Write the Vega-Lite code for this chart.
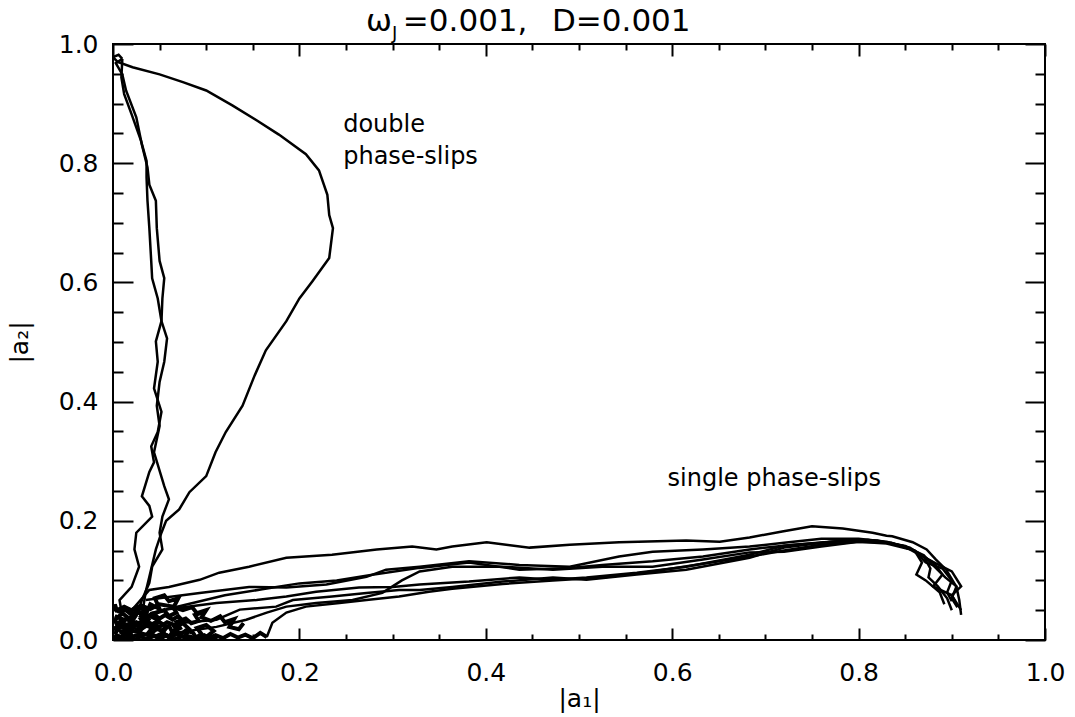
{
  "$schema": "https://vega.github.io/schema/vega-lite/v6.json",
  "width": 932,
  "height": 596,
  "autosize": "none",
  "padding": {"left": 113, "top": 44, "right": 30, "bottom": 77},
  "background": "white",
  "config": {
    "view": {"stroke": "black", "strokeWidth": 2},
    "font": "DejaVu Sans"
  },
  "datasets": {
    "traj": [
      {"t":"C1","x":0.005,"y":0.002},{"t":"C1","x":0.012,"y":0.008},{"t":"C1","x":0.008,"y":0.015},{"t":"C1","x":0.018,"y":0.012},{"t":"C1","x":0.022,"y":0.02},{"t":"C1","x":0.015,"y":0.026},{"t":"C1","x":0.025,"y":0.03},{"t":"C1","x":0.032,"y":0.022},{"t":"C1","x":0.028,"y":0.012},{"t":"C1","x":0.038,"y":0.008},{"t":"C1","x":0.045,"y":0.016},{"t":"C1","x":0.04,"y":0.026},{"t":"C1","x":0.05,"y":0.03},{"t":"C1","x":0.058,"y":0.022},{"t":"C1","x":0.052,"y":0.01},{"t":"C1","x":0.062,"y":0.004},{"t":"C1","x":0.07,"y":0.012},{"t":"C1","x":0.066,"y":0.022},{"t":"C1","x":0.075,"y":0.028},{"t":"C1","x":0.082,"y":0.018},{"t":"C1","x":0.078,"y":0.008},{"t":"C1","x":0.088,"y":0.003},{"t":"C1","x":0.095,"y":0.01},{"t":"C1","x":0.09,"y":0.02},{"t":"C1","x":0.1,"y":0.025},{"t":"C1","x":0.108,"y":0.015},{"t":"C1","x":0.1,"y":0.005},{"t":"C1","x":0.112,"y":0.002},
      {"t":"C2","x":0.002,"y":0.04},{"t":"C2","x":0.01,"y":0.035},{"t":"C2","x":0.006,"y":0.028},{"t":"C2","x":0.015,"y":0.022},{"t":"C2","x":0.01,"y":0.012},{"t":"C2","x":0.02,"y":0.005},{"t":"C2","x":0.03,"y":0.01},{"t":"C2","x":0.026,"y":0.018},{"t":"C2","x":0.035,"y":0.025},{"t":"C2","x":0.03,"y":0.035},{"t":"C2","x":0.04,"y":0.04},{"t":"C2","x":0.048,"y":0.034},{"t":"C2","x":0.045,"y":0.045},{"t":"C2","x":0.055,"y":0.05},{"t":"C2","x":0.06,"y":0.04},{"t":"C2","x":0.068,"y":0.046},{"t":"C2","x":0.064,"y":0.056},{"t":"C2","x":0.05,"y":0.06},{"t":"C2","x":0.04,"y":0.052},{"t":"C2","x":0.03,"y":0.058},{"t":"C2","x":0.02,"y":0.05},{"t":"C2","x":0.012,"y":0.056},{"t":"C2","x":0.004,"y":0.05},{"t":"C2","x":0.002,"y":0.06},
      {"t":"C3","x":0.0,"y":0.005},{"t":"C3","x":0.008,"y":0.0},{"t":"C3","x":0.016,"y":0.004},{"t":"C3","x":0.024,"y":0.0},{"t":"C3","x":0.03,"y":0.006},{"t":"C3","x":0.036,"y":0.001},{"t":"C3","x":0.044,"y":0.007},{"t":"C3","x":0.05,"y":0.002},{"t":"C3","x":0.058,"y":0.008},{"t":"C3","x":0.066,"y":0.001},{"t":"C3","x":0.074,"y":0.006},{"t":"C3","x":0.082,"y":0.0},{"t":"C3","x":0.09,"y":0.005},{"t":"C3","x":0.1,"y":0.002},{"t":"C3","x":0.11,"y":0.008},{"t":"C3","x":0.118,"y":0.003},{"t":"C3","x":0.126,"y":0.01},{"t":"C3","x":0.134,"y":0.004},{"t":"C3","x":0.142,"y":0.009},{"t":"C3","x":0.15,"y":0.003},{"t":"C3","x":0.158,"y":0.012},{"t":"C3","x":0.165,"y":0.005},
      {"t":"C4","x":0.0,"y":0.055},{"t":"C4","x":0.006,"y":0.048},{"t":"C4","x":0.014,"y":0.05},{"t":"C4","x":0.02,"y":0.042},{"t":"C4","x":0.028,"y":0.046},{"t":"C4","x":0.034,"y":0.038},{"t":"C4","x":0.042,"y":0.044},{"t":"C4","x":0.05,"y":0.036},{"t":"C4","x":0.056,"y":0.042},{"t":"C4","x":0.064,"y":0.034},{"t":"C4","x":0.07,"y":0.04},{"t":"C4","x":0.076,"y":0.03},{"t":"C4","x":0.068,"y":0.024},{"t":"C4","x":0.058,"y":0.03},{"t":"C4","x":0.05,"y":0.022},{"t":"C4","x":0.04,"y":0.028},{"t":"C4","x":0.032,"y":0.02},{"t":"C4","x":0.022,"y":0.026},{"t":"C4","x":0.014,"y":0.018},{"t":"C4","x":0.006,"y":0.024},{"t":"C4","x":0.0,"y":0.018},
      {"t":"C5","x":0.0,"y":0.03},{"t":"C5","x":0.01,"y":0.045},{"t":"C5","x":0.018,"y":0.035},{"t":"C5","x":0.025,"y":0.05},{"t":"C5","x":0.035,"y":0.042},{"t":"C5","x":0.04,"y":0.06},{"t":"C5","x":0.05,"y":0.052},{"t":"C5","x":0.045,"y":0.07},{"t":"C5","x":0.055,"y":0.075},{"t":"C5","x":0.06,"y":0.065},{"t":"C5","x":0.07,"y":0.07},{"t":"C5","x":0.065,"y":0.055},{"t":"C5","x":0.075,"y":0.05},{"t":"C5","x":0.085,"y":0.055},{"t":"C5","x":0.09,"y":0.045},{"t":"C5","x":0.1,"y":0.05},{"t":"C5","x":0.095,"y":0.038},{"t":"C5","x":0.105,"y":0.032},{"t":"C5","x":0.115,"y":0.04},{"t":"C5","x":0.12,"y":0.03},{"t":"C5","x":0.13,"y":0.035},{"t":"C5","x":0.125,"y":0.022},{"t":"C5","x":0.135,"y":0.018},{"t":"C5","x":0.14,"y":0.028},
      {"t":"C6","x":0.002,"y":0.01},{"t":"C6","x":0.006,"y":0.02},{"t":"C6","x":0.003,"y":0.03},{"t":"C6","x":0.01,"y":0.026},{"t":"C6","x":0.014,"y":0.036},{"t":"C6","x":0.02,"y":0.03},{"t":"C6","x":0.024,"y":0.04},{"t":"C6","x":0.018,"y":0.048},{"t":"C6","x":0.026,"y":0.056},{"t":"C6","x":0.034,"y":0.05},{"t":"C6","x":0.03,"y":0.04},{"t":"C6","x":0.038,"y":0.034},{"t":"C6","x":0.034,"y":0.026},{"t":"C6","x":0.042,"y":0.02},{"t":"C6","x":0.038,"y":0.012},{"t":"C6","x":0.046,"y":0.006},{"t":"C6","x":0.054,"y":0.012},{"t":"C6","x":0.06,"y":0.004},{"t":"C6","x":0.064,"y":0.014},{"t":"C6","x":0.072,"y":0.02},{"t":"C6","x":0.068,"y":0.03},{"t":"C6","x":0.078,"y":0.036},{"t":"C6","x":0.084,"y":0.028},{"t":"C6","x":0.092,"y":0.032},{"t":"C6","x":0.088,"y":0.042},{"t":"C6","x":0.096,"y":0.046},
      {"t":"C7","x":0.0,"y":0.0},{"t":"C7","x":0.004,"y":0.008},{"t":"C7","x":0.01,"y":0.004},{"t":"C7","x":0.014,"y":0.012},{"t":"C7","x":0.02,"y":0.008},{"t":"C7","x":0.016,"y":0.018},{"t":"C7","x":0.024,"y":0.014},{"t":"C7","x":0.03,"y":0.02},{"t":"C7","x":0.026,"y":0.028},{"t":"C7","x":0.034,"y":0.032},{"t":"C7","x":0.042,"y":0.026},{"t":"C7","x":0.048,"y":0.032},{"t":"C7","x":0.044,"y":0.02},{"t":"C7","x":0.052,"y":0.016},{"t":"C7","x":0.06,"y":0.024},{"t":"C7","x":0.064,"y":0.012},{"t":"C7","x":0.072,"y":0.008},{"t":"C7","x":0.078,"y":0.016},{"t":"C7","x":0.086,"y":0.012},{"t":"C7","x":0.09,"y":0.002},{"t":"C7","x":0.098,"y":0.008},{"t":"C7","x":0.106,"y":0.0},
      {"t":"D1","x":0.03,"y":0.03},{"t":"D1","x":0.033,"y":0.06},{"t":"D1","x":0.035,"y":0.08},{"t":"D1","x":0.039,"y":0.106},{"t":"D1","x":0.046,"y":0.152},{"t":"D1","x":0.052,"y":0.18},{"t":"D1","x":0.057,"y":0.2},{"t":"D1","x":0.071,"y":0.219},{"t":"D1","x":0.082,"y":0.248},{"t":"D1","x":0.1,"y":0.275},{"t":"D1","x":0.11,"y":0.315},{"t":"D1","x":0.121,"y":0.349},{"t":"D1","x":0.139,"y":0.393},{"t":"D1","x":0.152,"y":0.444},{"t":"D1","x":0.164,"y":0.486},{"t":"D1","x":0.186,"y":0.535},{"t":"D1","x":0.2,"y":0.573},{"t":"D1","x":0.214,"y":0.602},{"t":"D1","x":0.232,"y":0.641},{"t":"D1","x":0.236,"y":0.691},{"t":"D1","x":0.232,"y":0.713},{"t":"D1","x":0.23,"y":0.747},{"t":"D1","x":0.221,"y":0.788},{"t":"D1","x":0.207,"y":0.815},{"t":"D1","x":0.178,"y":0.848},{"t":"D1","x":0.154,"y":0.872},{"t":"D1","x":0.128,"y":0.897},{"t":"D1","x":0.1,"y":0.922},{"t":"D1","x":0.075,"y":0.936},{"t":"D1","x":0.05,"y":0.949},{"t":"D1","x":0.021,"y":0.961},{"t":"D1","x":0.005,"y":0.97},{"t":"D1","x":0.0,"y":0.978},{"t":"D1","x":0.006,"y":0.982},{"t":"D1","x":0.01,"y":0.975},
      {"t":"D2","x":0.01,"y":0.975},{"t":"D2","x":0.003,"y":0.968},{"t":"D2","x":0.01,"y":0.949},{"t":"D2","x":0.014,"y":0.922},{"t":"D2","x":0.025,"y":0.877},{"t":"D2","x":0.031,"y":0.831},{"t":"D2","x":0.037,"y":0.793},{"t":"D2","x":0.039,"y":0.764},{"t":"D2","x":0.046,"y":0.737},{"t":"D2","x":0.047,"y":0.691},{"t":"D2","x":0.05,"y":0.636},{"t":"D2","x":0.055,"y":0.607},{"t":"D2","x":0.053,"y":0.573},{"t":"D2","x":0.052,"y":0.535},{"t":"D2","x":0.058,"y":0.506},{"t":"D2","x":0.055,"y":0.467},{"t":"D2","x":0.05,"y":0.433},{"t":"D2","x":0.047,"y":0.393},{"t":"D2","x":0.05,"y":0.359},{"t":"D2","x":0.044,"y":0.315},{"t":"D2","x":0.055,"y":0.258},{"t":"D2","x":0.06,"y":0.236},{"t":"D2","x":0.053,"y":0.207},{"t":"D2","x":0.05,"y":0.18},{"t":"D2","x":0.053,"y":0.152},{"t":"D2","x":0.042,"y":0.123},{"t":"D2","x":0.039,"y":0.096},{"t":"D2","x":0.031,"y":0.067},{"t":"D2","x":0.025,"y":0.04},
      {"t":"D3","x":0.01,"y":0.975},{"t":"D3","x":0.009,"y":0.944},{"t":"D3","x":0.012,"y":0.916},{"t":"D3","x":0.02,"y":0.882},{"t":"D3","x":0.03,"y":0.838},{"t":"D3","x":0.036,"y":0.804},{"t":"D3","x":0.036,"y":0.776},{"t":"D3","x":0.037,"y":0.737},{"t":"D3","x":0.039,"y":0.691},{"t":"D3","x":0.041,"y":0.636},{"t":"D3","x":0.042,"y":0.607},{"t":"D3","x":0.048,"y":0.573},{"t":"D3","x":0.052,"y":0.535},{"t":"D3","x":0.046,"y":0.501},{"t":"D3","x":0.048,"y":0.467},{"t":"D3","x":0.044,"y":0.422},{"t":"D3","x":0.052,"y":0.383},{"t":"D3","x":0.048,"y":0.349},{"t":"D3","x":0.041,"y":0.325},{"t":"D3","x":0.044,"y":0.298},{"t":"D3","x":0.039,"y":0.282},{"t":"D3","x":0.031,"y":0.241},{"t":"D3","x":0.039,"y":0.225},{"t":"D3","x":0.042,"y":0.207},{"t":"D3","x":0.025,"y":0.18},{"t":"D3","x":0.023,"y":0.152},{"t":"D3","x":0.028,"y":0.123},{"t":"D3","x":0.02,"y":0.089},{"t":"D3","x":0.007,"y":0.067},{"t":"D3","x":0.01,"y":0.04},
      {"t":"S1","x":0.02,"y":0.05},{"t":"S1","x":0.039,"y":0.084},{"t":"S1","x":0.06,"y":0.089},{"t":"S1","x":0.093,"y":0.101},{"t":"S1","x":0.114,"y":0.113},{"t":"S1","x":0.146,"y":0.123},{"t":"S1","x":0.186,"y":0.138},{"t":"S1","x":0.235,"y":0.143},{"t":"S1","x":0.283,"y":0.152},{"t":"S1","x":0.321,"y":0.157},{"t":"S1","x":0.347,"y":0.152},{"t":"S1","x":0.364,"y":0.157},{"t":"S1","x":0.401,"y":0.164},{"t":"S1","x":0.447,"y":0.155},{"t":"S1","x":0.49,"y":0.16},{"t":"S1","x":0.543,"y":0.164},{"t":"S1","x":0.615,"y":0.167},{"t":"S1","x":0.651,"y":0.165},{"t":"S1","x":0.683,"y":0.172},{"t":"S1","x":0.718,"y":0.182},{"t":"S1","x":0.75,"y":0.191},{"t":"S1","x":0.783,"y":0.187},{"t":"S1","x":0.815,"y":0.18},{"t":"S1","x":0.83,"y":0.175},{"t":"S1","x":0.836,"y":0.174},{"t":"S1","x":0.858,"y":0.164},{"t":"S1","x":0.873,"y":0.152},{"t":"S1","x":0.883,"y":0.135},{"t":"S1","x":0.894,"y":0.118},{"t":"S1","x":0.905,"y":0.089},{"t":"S1","x":0.908,"y":0.067},{"t":"S1","x":0.91,"y":0.042},
      {"t":"S2","x":0.035,"y":0.067},{"t":"S2","x":0.093,"y":0.079},{"t":"S2","x":0.146,"y":0.089},{"t":"S2","x":0.186,"y":0.088},{"t":"S2","x":0.229,"y":0.093},{"t":"S2","x":0.272,"y":0.106},{"t":"S2","x":0.293,"y":0.118},{"t":"S2","x":0.329,"y":0.123},{"t":"S2","x":0.382,"y":0.132},{"t":"S2","x":0.436,"y":0.126},{"t":"S2","x":0.49,"y":0.123},{"t":"S2","x":0.543,"y":0.14},{"t":"S2","x":0.579,"y":0.148},{"t":"S2","x":0.633,"y":0.152},{"t":"S2","x":0.683,"y":0.157},{"t":"S2","x":0.72,"y":0.163},{"t":"S2","x":0.76,"y":0.17},{"t":"S2","x":0.8,"y":0.17},{"t":"S2","x":0.83,"y":0.165},{"t":"S2","x":0.855,"y":0.155},{"t":"S2","x":0.87,"y":0.14},{"t":"S2","x":0.877,"y":0.12},{"t":"S2","x":0.875,"y":0.105},{"t":"S2","x":0.885,"y":0.09},{"t":"S2","x":0.895,"y":0.07},{"t":"S2","x":0.9,"y":0.05},
      {"t":"S3","x":0.057,"y":0.051},{"t":"S3","x":0.111,"y":0.062},{"t":"S3","x":0.154,"y":0.067},{"t":"S3","x":0.186,"y":0.073},{"t":"S3","x":0.218,"y":0.081},{"t":"S3","x":0.264,"y":0.088},{"t":"S3","x":0.3,"y":0.089},{"t":"S3","x":0.329,"y":0.093},{"t":"S3","x":0.382,"y":0.098},{"t":"S3","x":0.436,"y":0.105},{"t":"S3","x":0.472,"y":0.101},{"t":"S3","x":0.508,"y":0.105},{"t":"S3","x":0.562,"y":0.113},{"t":"S3","x":0.615,"y":0.123},{"t":"S3","x":0.683,"y":0.143},{"t":"S3","x":0.72,"y":0.158},{"t":"S3","x":0.76,"y":0.163},{"t":"S3","x":0.79,"y":0.167},{"t":"S3","x":0.82,"y":0.166},{"t":"S3","x":0.85,"y":0.158},{"t":"S3","x":0.865,"y":0.145},{"t":"S3","x":0.88,"y":0.13},{"t":"S3","x":0.89,"y":0.11},{"t":"S3","x":0.88,"y":0.09},{"t":"S3","x":0.9,"y":0.075},{"t":"S3","x":0.905,"y":0.06},
      {"t":"S4","x":0.075,"y":0.029},{"t":"S4","x":0.111,"y":0.034},{"t":"S4","x":0.136,"y":0.051},{"t":"S4","x":0.175,"y":0.056},{"t":"S4","x":0.193,"y":0.067},{"t":"S4","x":0.235,"y":0.073},{"t":"S4","x":0.272,"y":0.079},{"t":"S4","x":0.307,"y":0.084},{"t":"S4","x":0.329,"y":0.084},{"t":"S4","x":0.364,"y":0.089},{"t":"S4","x":0.418,"y":0.098},{"t":"S4","x":0.472,"y":0.105},{"t":"S4","x":0.508,"y":0.101},{"t":"S4","x":0.562,"y":0.11},{"t":"S4","x":0.615,"y":0.118},{"t":"S4","x":0.683,"y":0.138},{"t":"S4","x":0.72,"y":0.155},{"t":"S4","x":0.77,"y":0.165},{"t":"S4","x":0.81,"y":0.168},{"t":"S4","x":0.84,"y":0.16},{"t":"S4","x":0.86,"y":0.15},{"t":"S4","x":0.872,"y":0.13},{"t":"S4","x":0.89,"y":0.12},{"t":"S4","x":0.9,"y":0.1},{"t":"S4","x":0.895,"y":0.08},{"t":"S4","x":0.9,"y":0.065},
      {"t":"S5","x":0.165,"y":0.005},{"t":"S5","x":0.171,"y":0.029},{"t":"S5","x":0.186,"y":0.046},{"t":"S5","x":0.207,"y":0.056},{"t":"S5","x":0.243,"y":0.062},{"t":"S5","x":0.272,"y":0.067},{"t":"S5","x":0.307,"y":0.073},{"t":"S5","x":0.339,"y":0.081},{"t":"S5","x":0.364,"y":0.086},{"t":"S5","x":0.418,"y":0.094},{"t":"S5","x":0.472,"y":0.1},{"t":"S5","x":0.525,"y":0.105},{"t":"S5","x":0.579,"y":0.115},{"t":"S5","x":0.633,"y":0.128},{"t":"S5","x":0.683,"y":0.14},{"t":"S5","x":0.72,"y":0.15},{"t":"S5","x":0.76,"y":0.16},{"t":"S5","x":0.8,"y":0.165},{"t":"S5","x":0.835,"y":0.163},{"t":"S5","x":0.86,"y":0.15},{"t":"S5","x":0.868,"y":0.13},{"t":"S5","x":0.862,"y":0.11},{"t":"S5","x":0.872,"y":0.1},{"t":"S5","x":0.887,"y":0.08},{"t":"S5","x":0.892,"y":0.06},
      {"t":"S6","x":0.068,"y":0.012},{"t":"S6","x":0.111,"y":0.022},{"t":"S6","x":0.143,"y":0.034},{"t":"S6","x":0.165,"y":0.046},{"t":"S6","x":0.186,"y":0.056},{"t":"S6","x":0.218,"y":0.062},{"t":"S6","x":0.257,"y":0.067},{"t":"S6","x":0.289,"y":0.079},{"t":"S6","x":0.31,"y":0.1},{"t":"S6","x":0.329,"y":0.115},{"t":"S6","x":0.364,"y":0.123},{"t":"S6","x":0.418,"y":0.123},{"t":"S6","x":0.472,"y":0.118},{"t":"S6","x":0.525,"y":0.123},{"t":"S6","x":0.579,"y":0.123},{"t":"S6","x":0.633,"y":0.135},{"t":"S6","x":0.683,"y":0.147},{"t":"S6","x":0.72,"y":0.148},{"t":"S6","x":0.76,"y":0.157},{"t":"S6","x":0.8,"y":0.165},{"t":"S6","x":0.83,"y":0.162},{"t":"S6","x":0.855,"y":0.152},{"t":"S6","x":0.875,"y":0.135},{"t":"S6","x":0.9,"y":0.115},{"t":"S6","x":0.91,"y":0.09},{"t":"S6","x":0.9,"y":0.075},{"t":"S6","x":0.91,"y":0.05},
      {"t":"S7","x":0.04,"y":0.045},{"t":"S7","x":0.08,"y":0.06},{"t":"S7","x":0.12,"y":0.075},{"t":"S7","x":0.16,"y":0.085},{"t":"S7","x":0.2,"y":0.095},{"t":"S7","x":0.24,"y":0.1},{"t":"S7","x":0.28,"y":0.11},{"t":"S7","x":0.329,"y":0.121},{"t":"S7","x":0.382,"y":0.13},{"t":"S7","x":0.436,"y":0.118},{"t":"S7","x":0.49,"y":0.121},{"t":"S7","x":0.525,"y":0.126},{"t":"S7","x":0.579,"y":0.132},{"t":"S7","x":0.633,"y":0.14},{"t":"S7","x":0.683,"y":0.152},{"t":"S7","x":0.73,"y":0.16},{"t":"S7","x":0.78,"y":0.166},{"t":"S7","x":0.82,"y":0.167},{"t":"S7","x":0.85,"y":0.157},{"t":"S7","x":0.87,"y":0.142},{"t":"S7","x":0.88,"y":0.125},{"t":"S7","x":0.893,"y":0.105},{"t":"S7","x":0.905,"y":0.09},{"t":"S7","x":0.9,"y":0.07},{"t":"S7","x":0.906,"y":0.055}
    ],
    "ann": [
      {"s": "double\nphase-slips", "x": 0.247, "y": 0.852},
      {"s": "single phase-slips", "x": 0.595, "y": 0.258}
    ],
    "ttl": [
      {"s": "=0.001,", "x": 0.311, "y": 1.0218},
      {"s": "D=0.001", "x": 0.471, "y": 1.0218}
    ]
  },
  "resolve": {"axis": {"x": "independent", "y": "independent"}},
  "layer": [
    {
      "data": {"name": "traj"},
      "mark": {"type": "line", "color": "black", "strokeWidth": 2.5, "clip": true},
      "encoding": {
        "x": {
          "field": "x", "type": "quantitative",
          "scale": {"domain": [0, 1], "nice": false, "zero": false},
          "axis": {
            "orient": "bottom",
            "values": [0,0.05,0.1,0.15,0.2,0.25,0.3,0.35,0.4,0.45,0.5,0.55,0.6,0.65,0.7,0.75,0.8,0.85,0.9,0.95,1],
            "labelExpr": "abs(datum.value*5 - round(datum.value*5)) < 0.001 ? format(datum.value, '.1f') : ''",
            "tickSize": {"condition": {"test": "abs(datum.value*5 - round(datum.value*5)) < 0.001", "value": -12}, "value": -6},
            "tickWidth": 2, "tickColor": "black",
            "domain": false, "grid": false,
            "labelFont": "DejaVu Sans", "labelFontSize": 25, "labelColor": "black",
            "labelPadding": 32, "labelFlush": false, "labelOverlap": false,
            "title": "|a₁|", "titleFont": "DejaVu Sans", "titleFontSize": 25, "titleFontWeight": "normal", "titleColor": "black", "titlePadding": -5
          }
        },
        "y": {
          "field": "y", "type": "quantitative",
          "scale": {"domain": [0, 1], "nice": false, "zero": false},
          "axis": {
            "orient": "left",
            "values": [0,0.05,0.1,0.15,0.2,0.25,0.3,0.35,0.4,0.45,0.5,0.55,0.6,0.65,0.7,0.75,0.8,0.85,0.9,0.95,1],
            "labelExpr": "abs(datum.value*5 - round(datum.value*5)) < 0.001 ? format(datum.value, '.1f') : ''",
            "tickSize": {"condition": {"test": "abs(datum.value*5 - round(datum.value*5)) < 0.001", "value": -20}, "value": -10},
            "tickWidth": 2, "tickColor": "black",
            "domain": false, "grid": false,
            "labelFont": "DejaVu Sans", "labelFontSize": 25, "labelColor": "black",
            "labelPadding": 35, "labelFlush": false, "labelOverlap": false,
            "title": "|a₂|", "titleFont": "DejaVu Sans", "titleFontSize": 25, "titleFontWeight": "normal", "titleColor": "black", "titlePadding": 26
          }
        },
        "detail": {"field": "t"},
        "order": {"value": null}
      }
    },
    {
      "data": {"name": "traj"},
      "transform": [{"filter": "indexof(datum.t, 'C') == 0"}],
      "mark": {"type": "line", "color": "black", "strokeWidth": 4, "clip": true},
      "encoding": {
        "x": {"field": "x", "type": "quantitative", "scale": {"domain": [0, 1], "nice": false, "zero": false}, "axis": null},
        "y": {"field": "y", "type": "quantitative", "scale": {"domain": [0, 1], "nice": false, "zero": false}, "axis": null},
        "detail": {"field": "t"},
        "order": {"value": null}
      }
    },
    {
      "data": {"name": "ann"},
      "mark": {"type": "text", "align": "left", "baseline": "alphabetic", "fontSize": 24, "font": "DejaVu Sans", "color": "black", "lineBreak": "\n", "lineHeight": 32},
      "encoding": {
        "x": {
          "field": "x", "type": "quantitative",
          "scale": {"domain": [0, 1], "nice": false, "zero": false},
          "axis": {
            "orient": "top",
            "values": [0,0.05,0.1,0.15,0.2,0.25,0.3,0.35,0.4,0.45,0.5,0.55,0.6,0.65,0.7,0.75,0.8,0.85,0.9,0.95,1],
            "labels": false,
            "tickSize": {"condition": {"test": "abs(datum.value*5 - round(datum.value*5)) < 0.001", "value": -12}, "value": -6},
            "tickWidth": 2, "tickColor": "black", "domain": false, "grid": false, "title": null
          }
        },
        "y": {
          "field": "y", "type": "quantitative",
          "scale": {"domain": [0, 1], "nice": false, "zero": false},
          "axis": {
            "orient": "right",
            "values": [0,0.05,0.1,0.15,0.2,0.25,0.3,0.35,0.4,0.45,0.5,0.55,0.6,0.65,0.7,0.75,0.8,0.85,0.9,0.95,1],
            "labels": false,
            "tickSize": {"condition": {"test": "abs(datum.value*5 - round(datum.value*5)) < 0.001", "value": -20}, "value": -10},
            "tickWidth": 2, "tickColor": "black", "domain": false, "grid": false, "title": null
          }
        },
        "text": {"field": "s"}
      }
    },
    {
      "data": {"values": [{"s": "ω", "x": 0.2994, "y": 1.0218}]},
      "mark": {"type": "text", "align": "right", "baseline": "alphabetic", "fontSize": 31, "font": "DejaVu Sans", "color": "black"},
      "encoding": {
        "x": {"field": "x", "type": "quantitative", "scale": {"domain": [0, 1], "nice": false, "zero": false}, "axis": null},
        "y": {"field": "y", "type": "quantitative", "scale": {"domain": [0, 1], "nice": false, "zero": false}, "axis": null},
        "text": {"field": "s"}
      }
    },
    {
      "data": {"values": [{"s": "J", "x": 0.2994, "y": 1.009}]},
      "mark": {"type": "text", "align": "left", "baseline": "alphabetic", "fontSize": 18, "font": "DejaVu Sans", "color": "black"},
      "encoding": {
        "x": {"field": "x", "type": "quantitative", "scale": {"domain": [0, 1], "nice": false, "zero": false}, "axis": null},
        "y": {"field": "y", "type": "quantitative", "scale": {"domain": [0, 1], "nice": false, "zero": false}, "axis": null},
        "text": {"field": "s"}
      }
    },
    {
      "data": {"name": "ttl"},
      "mark": {"type": "text", "align": "left", "baseline": "alphabetic", "fontSize": 31, "font": "DejaVu Sans", "color": "black"},
      "encoding": {
        "x": {"field": "x", "type": "quantitative", "scale": {"domain": [0, 1], "nice": false, "zero": false}, "axis": null},
        "y": {"field": "y", "type": "quantitative", "scale": {"domain": [0, 1], "nice": false, "zero": false}, "axis": null},
        "text": {"field": "s"}
      }
    }
  ]
}
